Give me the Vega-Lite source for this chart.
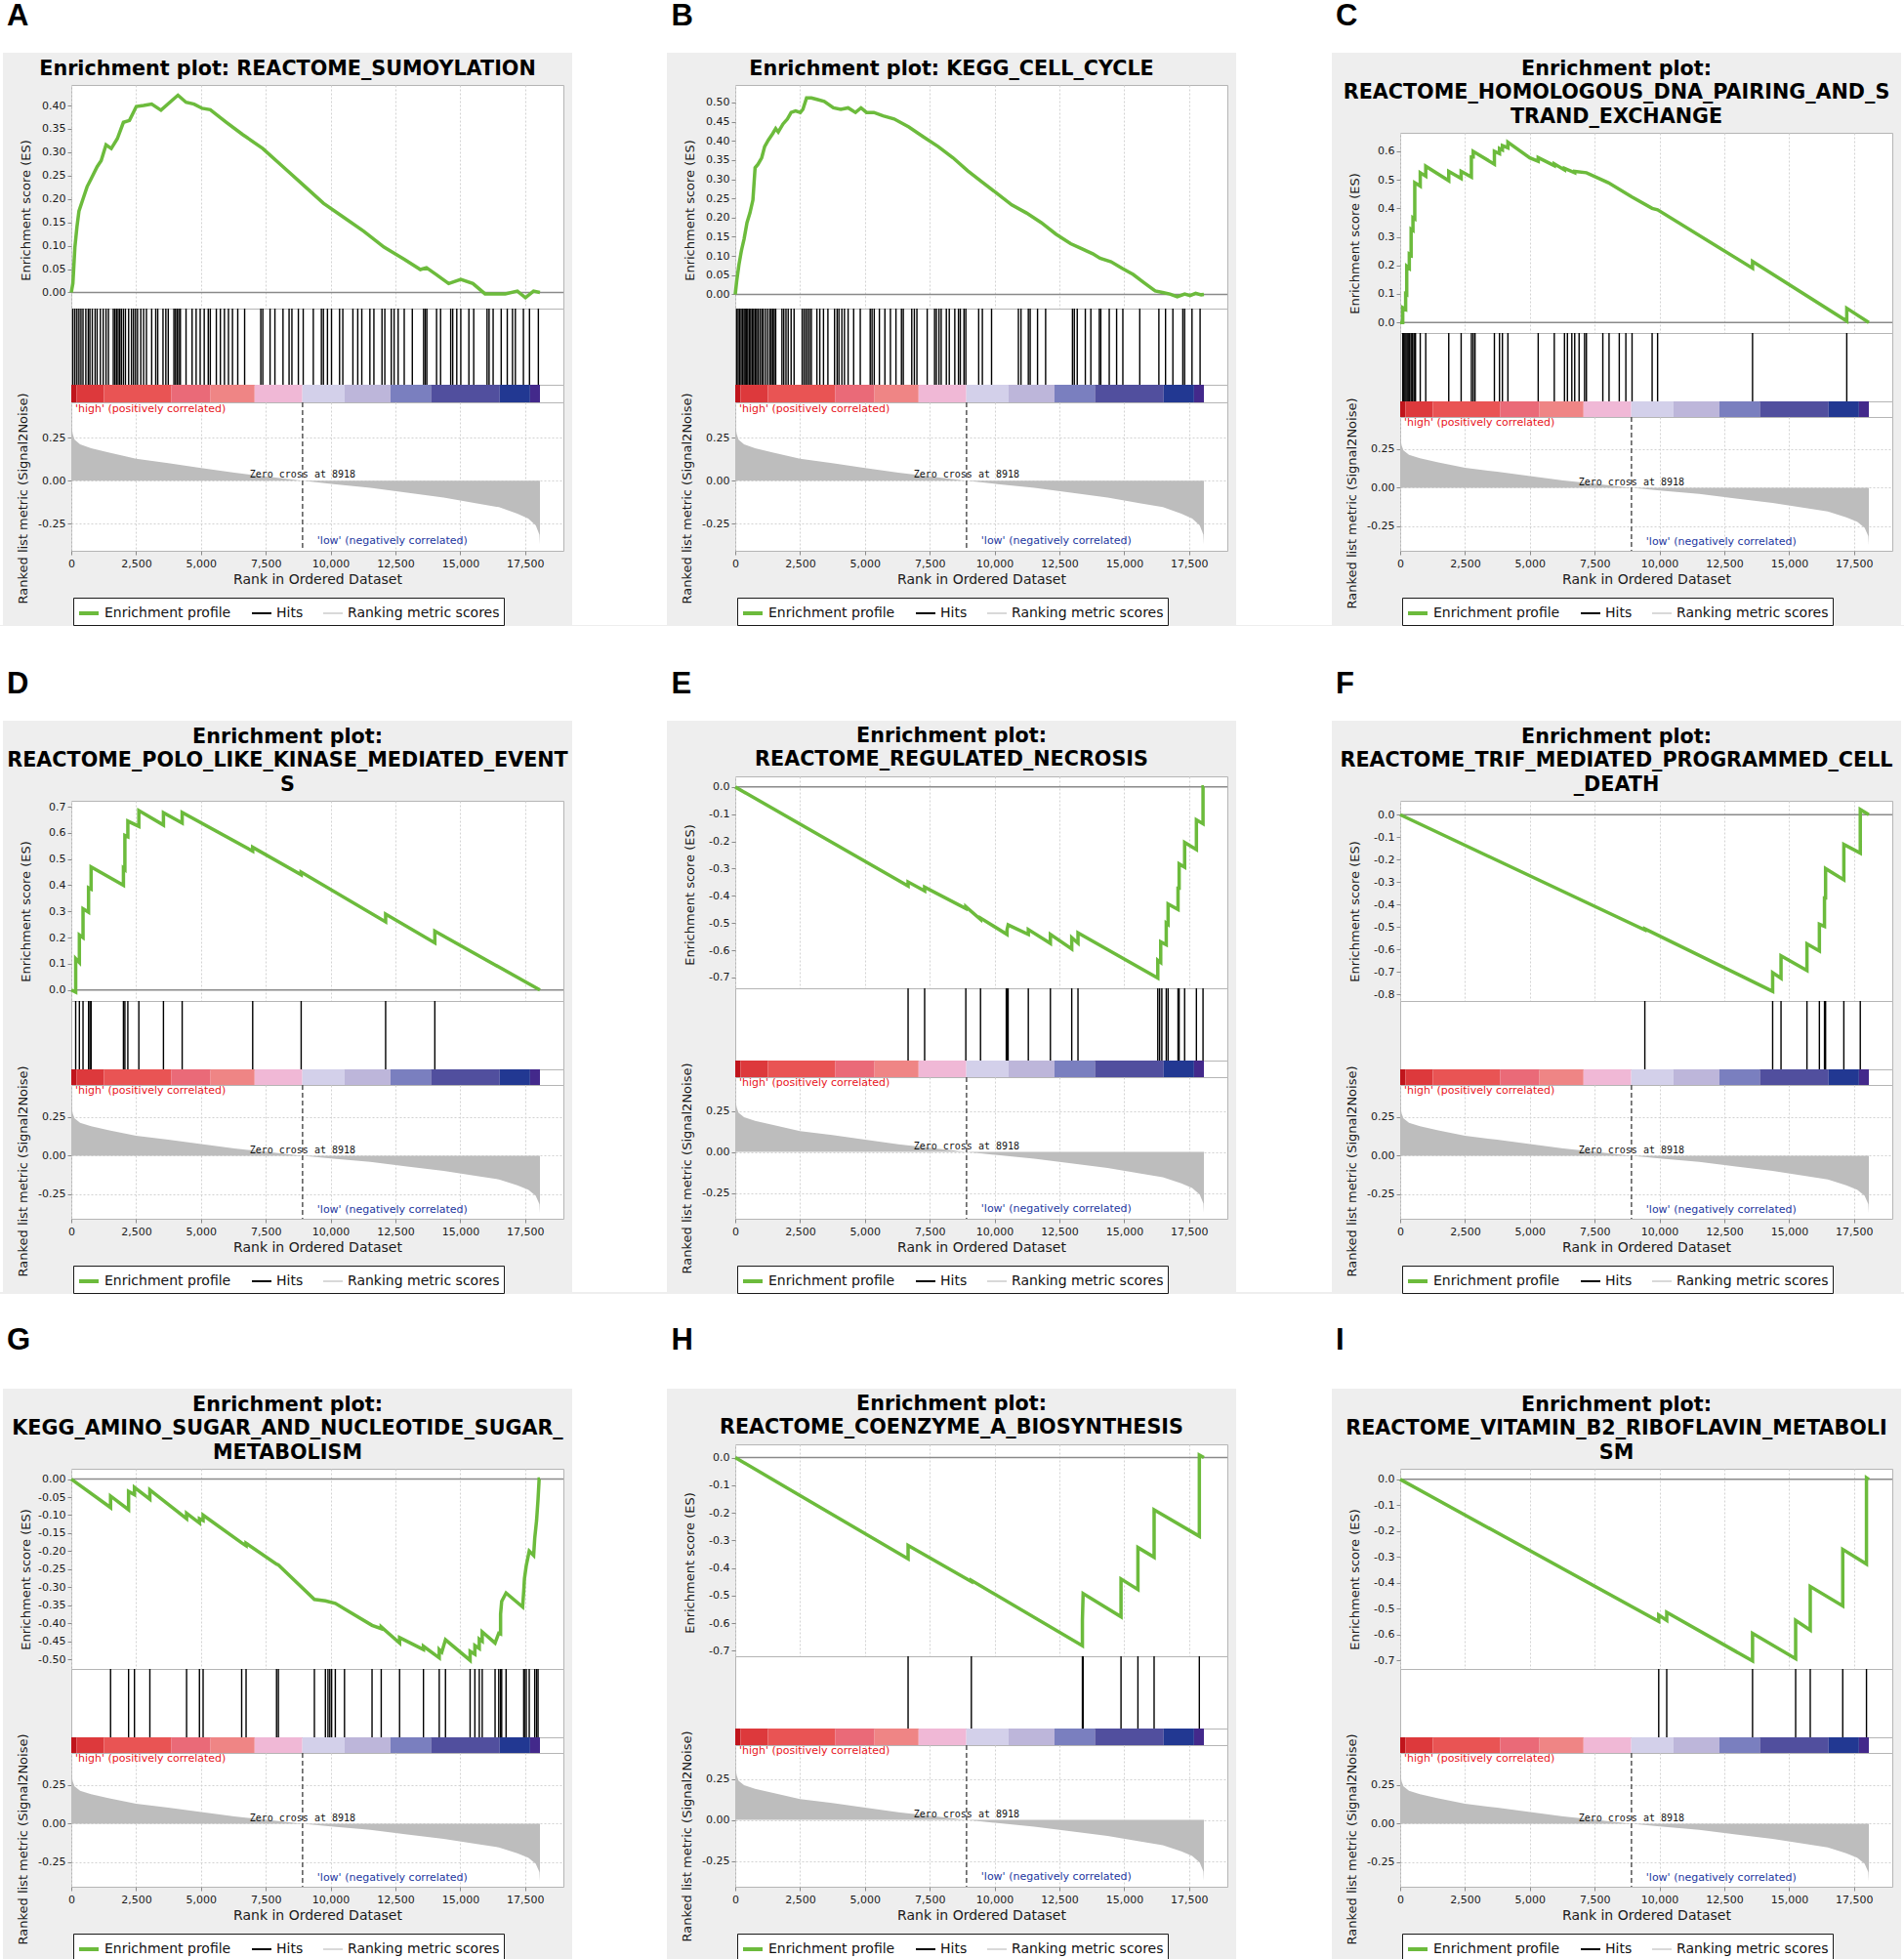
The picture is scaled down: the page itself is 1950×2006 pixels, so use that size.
{
  "$schema": "https://vega.github.io/schema/vega-lite/v6.json",
  "background": "#eeeeee",
  "padding": 0,
  "spacing": 0,
  "resolve": {"scale": {"color": "independent", "strokeWidth": "independent"}},
  "config": {
    "view": {"stroke": null},
    "concat": {"spacing": 0},
    "text": {"font": "DejaVu Sans"},
    "axis": {"labelFont": "DejaVu Sans", "labelFontSize": 11, "labelColor": "#1a1a1a", "titleFont": "DejaVu Sans", "titleFontSize": 13, "titleFontWeight": "normal", "titleColor": "#1a1a1a", "gridColor": "#d2d2d2", "gridDash": [2, 2], "tickColor": "#8a8a8a", "tickSize": 4, "labelPadding": 2, "domain": false, "labelFlush": false, "labelOverlap": false, "labelExpr": "replace(datum.label, '\u2212', '-')"},
    "axisY": {"minExtent": 35, "maxExtent": 35},
    "legend": {"orient": "none", "legendX": 2, "direction": "horizontal", "title": null, "fillColor": "white", "strokeColor": "#1a1a1a", "padding": 4, "labelFontSize": 14, "labelFont": "DejaVu Sans", "labelColor": "#111111", "symbolType": "stroke", "symbolSize": 400, "columnPadding": 17, "labelOffset": 4, "labelLimit": 300}
  },
  "datasets": {
    "cbar": [
      {"a": 0, "b": 200, "lv": 1}, {"a": 200, "b": 1260, "lv": 2}, {"a": 1260, "b": 3850, "lv": 3}, {"a": 3850, "b": 5370, "lv": 4},
      {"a": 5370, "b": 7070, "lv": 5}, {"a": 7070, "b": 8910, "lv": 6}, {"a": 8910, "b": 10540, "lv": 7}, {"a": 10540, "b": 12310, "lv": 8},
      {"a": 12310, "b": 13870, "lv": 9}, {"a": 13870, "b": 16520, "lv": 10}, {"a": 16520, "b": 17690, "lv": 11}, {"a": 17690, "b": 18071, "lv": 12}
    ],
    "metric": [
      {"r": 0, "m": 0.383}, {"r": 15, "m": 0.31}, {"r": 60, "m": 0.27}, {"r": 130, "m": 0.24}, {"r": 340, "m": 0.212}, {"r": 765, "m": 0.19},
      {"r": 1470, "m": 0.164}, {"r": 2500, "m": 0.128}, {"r": 3740, "m": 0.103}, {"r": 5010, "m": 0.075}, {"r": 6290, "m": 0.047},
      {"r": 7560, "m": 0.024}, {"r": 8918, "m": 0}, {"r": 10110, "m": -0.019}, {"r": 11530, "m": -0.041}, {"r": 12950, "m": -0.07},
      {"r": 14360, "m": -0.098}, {"r": 15640, "m": -0.132}, {"r": 16490, "m": -0.154}, {"r": 17200, "m": -0.192}, {"r": 17620, "m": -0.22},
      {"r": 17910, "m": -0.26}, {"r": 18050, "m": -0.314}, {"r": 18071, "m": -0.37}
    ],
    "es": [
      {"p":"A","r":0,"es":0},{"p":"A","r":62,"es":0.019},{"p":"A","r":140,"es":0.097},{"p":"A","r":218,"es":0.14},{"p":"A","r":296,"es":0.174},{"p":"A","r":452,"es":0.2},{"p":"A","r":608,"es":0.226},{"p":"A","r":763,"es":0.243},{"p":"A","r":997,"es":0.269},{"p":"A","r":1153,"es":0.282},{"p":"A","r":1340,"es":0.316},{"p":"A","r":1542,"es":0.308},{"p":"A","r":1776,"es":0.329},{"p":"A","r":2010,"es":0.364},{"p":"A","r":2243,"es":0.368},{"p":"A","r":2508,"es":0.398},{"p":"A","r":2789,"es":0.4},{"p":"A","r":3100,"es":0.403},{"p":"A","r":3459,"es":0.39},{"p":"A","r":3801,"es":0.407},{"p":"A","r":4113,"es":0.422},{"p":"A","r":4425,"es":0.407},{"p":"A","r":4736,"es":0.403},{"p":"A","r":5048,"es":0.394},{"p":"A","r":5360,"es":0.391},{"p":"A","r":5983,"es":0.364},{"p":"A","r":6606,"es":0.338},{"p":"A","r":7385,"es":0.308},{"p":"A","r":8164,"es":0.269},{"p":"A","r":8943,"es":0.23},{"p":"A","r":9722,"es":0.191},{"p":"A","r":10501,"es":0.161},{"p":"A","r":11280,"es":0.131},{"p":"A","r":12059,"es":0.097},{"p":"A","r":12838,"es":0.071},{"p":"A","r":13461,"es":0.049},{"p":"A","r":13695,"es":0.053},{"p":"A","r":14085,"es":0.038},{"p":"A","r":14552,"es":0.019},{"p":"A","r":15019,"es":0.028},{"p":"A","r":15487,"es":0.019},{"p":"A","r":15954,"es":-0.003},{"p":"A","r":16733,"es":-0.003},{"p":"A","r":17200,"es":0.003},{"p":"A","r":17512,"es":-0.011},{"p":"A","r":17824,"es":0.003},{"p":"A","r":18071,"es":0},
      {"p":"B","r":0,"es":0},{"p":"B","r":57,"es":0.035},{"p":"B","r":142,"es":0.077},{"p":"B","r":241,"es":0.115},{"p":"B","r":340,"es":0.144},{"p":"B","r":454,"es":0.187},{"p":"B","r":567,"es":0.212},{"p":"B","r":681,"es":0.246},{"p":"B","r":766,"es":0.33},{"p":"B","r":879,"es":0.339},{"p":"B","r":1021,"es":0.356},{"p":"B","r":1134,"es":0.385},{"p":"B","r":1276,"es":0.402},{"p":"B","r":1446,"es":0.419},{"p":"B","r":1560,"es":0.432},{"p":"B","r":1659,"es":0.423},{"p":"B","r":1843,"es":0.444},{"p":"B","r":2013,"es":0.457},{"p":"B","r":2155,"es":0.474},{"p":"B","r":2325,"es":0.478},{"p":"B","r":2510,"es":0.474},{"p":"B","r":2609,"es":0.482},{"p":"B","r":2751,"es":0.512},{"p":"B","r":2935,"es":0.512},{"p":"B","r":3148,"es":0.508},{"p":"B","r":3432,"es":0.503},{"p":"B","r":3786,"es":0.486},{"p":"B","r":4070,"es":0.482},{"p":"B","r":4353,"es":0.486},{"p":"B","r":4637,"es":0.474},{"p":"B","r":4850,"es":0.486},{"p":"B","r":5062,"es":0.474},{"p":"B","r":5346,"es":0.474},{"p":"B","r":5700,"es":0.465},{"p":"B","r":6126,"es":0.457},{"p":"B","r":6693,"es":0.436},{"p":"B","r":7260,"es":0.41},{"p":"B","r":7827,"es":0.385},{"p":"B","r":8395,"es":0.356},{"p":"B","r":8962,"es":0.322},{"p":"B","r":9529,"es":0.292},{"p":"B","r":10096,"es":0.263},{"p":"B","r":10663,"es":0.233},{"p":"B","r":11230,"es":0.212},{"p":"B","r":11798,"es":0.187},{"p":"B","r":12365,"es":0.157},{"p":"B","r":12932,"es":0.132},{"p":"B","r":13357,"es":0.119},{"p":"B","r":13783,"es":0.106},{"p":"B","r":14066,"es":0.094},{"p":"B","r":14492,"es":0.085},{"p":"B","r":14917,"es":0.068},{"p":"B","r":15342,"es":0.052},{"p":"B","r":15768,"es":0.03},{"p":"B","r":16193,"es":0.009},{"p":"B","r":16477,"es":0.005},{"p":"B","r":16760,"es":0.001},{"p":"B","r":17044,"es":-0.006},{"p":"B","r":17328,"es":0.001},{"p":"B","r":17540,"es":-0.003},{"p":"B","r":17753,"es":0.003},{"p":"B","r":17966,"es":-0.001},{"p":"B","r":18071,"es":0},
      {"p":"C","r":0,"es":0},{"p":"C","r":99,"es":0},{"p":"C","r":99,"es":0.052},{"p":"C","r":211,"es":0.046},{"p":"C","r":211,"es":0.1},{"p":"C","r":253,"es":0.098},{"p":"C","r":253,"es":0.197},{"p":"C","r":352,"es":0.19},{"p":"C","r":352,"es":0.24},{"p":"C","r":422,"es":0.236},{"p":"C","r":422,"es":0.327},{"p":"C","r":493,"es":0.323},{"p":"C","r":493,"es":0.367},{"p":"C","r":563,"es":0.363},{"p":"C","r":563,"es":0.49},{"p":"C","r":774,"es":0.478},{"p":"C","r":774,"es":0.525},{"p":"C","r":986,"es":0.513},{"p":"C","r":986,"es":0.548},{"p":"C","r":1873,"es":0.497},{"p":"C","r":1873,"es":0.53},{"p":"C","r":2351,"es":0.505},{"p":"C","r":2351,"es":0.53},{"p":"C","r":2746,"es":0.51},{"p":"C","r":2746,"es":0.58},{"p":"C","r":2816,"es":0.58},{"p":"C","r":2816,"es":0.6},{"p":"C","r":3633,"es":0.555},{"p":"C","r":3633,"es":0.6},{"p":"C","r":3830,"es":0.592},{"p":"C","r":3830,"es":0.61},{"p":"C","r":3942,"es":0.605},{"p":"C","r":3942,"es":0.62},{"p":"C","r":4154,"es":0.612},{"p":"C","r":4154,"es":0.632},{"p":"C","r":5000,"es":0.577},{"p":"C","r":5322,"es":0.565},{"p":"C","r":5322,"es":0.578},{"p":"C","r":5942,"es":0.55},{"p":"C","r":5942,"es":0.556},{"p":"C","r":6336,"es":0.535},{"p":"C","r":6336,"es":0.54},{"p":"C","r":6730,"es":0.525},{"p":"C","r":6730,"es":0.53},{"p":"C","r":7181,"es":0.525},{"p":"C","r":8026,"es":0.49},{"p":"C","r":8941,"es":0.44},{"p":"C","r":9715,"es":0.4},{"p":"C","r":9926,"es":0.395},{"p":"C","r":13587,"es":0.19},{"p":"C","r":13587,"es":0.214},{"p":"C","r":17220,"es":0.005},{"p":"C","r":17220,"es":0.05},{"p":"C","r":18071,"es":0},
      {"p":"D","r":0,"es":0},{"p":"D","r":170,"es":-0.008},{"p":"D","r":170,"es":0.12},{"p":"D","r":312,"es":0.105},{"p":"D","r":312,"es":0.21},{"p":"D","r":453,"es":0.2},{"p":"D","r":453,"es":0.31},{"p":"D","r":666,"es":0.297},{"p":"D","r":666,"es":0.39},{"p":"D","r":765,"es":0.385},{"p":"D","r":765,"es":0.47},{"p":"D","r":2011,"es":0.4},{"p":"D","r":2011,"es":0.465},{"p":"D","r":2067,"es":0.46},{"p":"D","r":2067,"es":0.59},{"p":"D","r":2181,"es":0.585},{"p":"D","r":2181,"es":0.645},{"p":"D","r":2605,"es":0.625},{"p":"D","r":2605,"es":0.685},{"p":"D","r":3554,"es":0.63},{"p":"D","r":3554,"es":0.677},{"p":"D","r":4276,"es":0.638},{"p":"D","r":4276,"es":0.678},{"p":"D","r":6995,"es":0.53},{"p":"D","r":6995,"es":0.545},{"p":"D","r":8864,"es":0.44},{"p":"D","r":8864,"es":0.45},{"p":"D","r":12121,"es":0.26},{"p":"D","r":12121,"es":0.29},{"p":"D","r":14018,"es":0.18},{"p":"D","r":14018,"es":0.225},{"p":"D","r":18071,"es":0},
      {"p":"E","r":0,"es":0},{"p":"E","r":6665,"es":-0.364},{"p":"E","r":6665,"es":-0.349},{"p":"E","r":7303,"es":-0.382},{"p":"E","r":7303,"es":-0.368},{"p":"E","r":8891,"es":-0.447},{"p":"E","r":8891,"es":-0.44},{"p":"E","r":9458,"es":-0.487},{"p":"E","r":9458,"es":-0.482},{"p":"E","r":10479,"es":-0.542},{"p":"E","r":10479,"es":-0.525},{"p":"E","r":10522,"es":-0.507},{"p":"E","r":11301,"es":-0.542},{"p":"E","r":11301,"es":-0.524},{"p":"E","r":12152,"es":-0.575},{"p":"E","r":12152,"es":-0.542},{"p":"E","r":12975,"es":-0.595},{"p":"E","r":12975,"es":-0.554},{"p":"E","r":13216,"es":-0.574},{"p":"E","r":13216,"es":-0.536},{"p":"E","r":16293,"es":-0.702},{"p":"E","r":16293,"es":-0.637},{"p":"E","r":16406,"es":-0.645},{"p":"E","r":16406,"es":-0.569},{"p":"E","r":16619,"es":-0.58},{"p":"E","r":16619,"es":-0.5},{"p":"E","r":16690,"es":-0.505},{"p":"E","r":16690,"es":-0.43},{"p":"E","r":17073,"es":-0.45},{"p":"E","r":17073,"es":-0.372},{"p":"E","r":17116,"es":-0.372},{"p":"E","r":17116,"es":-0.283},{"p":"E","r":17328,"es":-0.295},{"p":"E","r":17328,"es":-0.204},{"p":"E","r":17782,"es":-0.23},{"p":"E","r":17782,"es":-0.121},{"p":"E","r":18037,"es":-0.135},{"p":"E","r":18037,"es":0},{"p":"E","r":18071,"es":0},
      {"p":"F","r":0,"es":0},{"p":"F","r":9434,"es":-0.513},{"p":"F","r":9434,"es":-0.508},{"p":"F","r":14362,"es":-0.786},{"p":"F","r":14362,"es":-0.703},{"p":"F","r":14685,"es":-0.728},{"p":"F","r":14685,"es":-0.628},{"p":"F","r":15685,"es":-0.693},{"p":"F","r":15685,"es":-0.575},{"p":"F","r":16164,"es":-0.606},{"p":"F","r":16164,"es":-0.487},{"p":"F","r":16361,"es":-0.497},{"p":"F","r":16361,"es":-0.37},{"p":"F","r":16403,"es":-0.37},{"p":"F","r":16403,"es":-0.24},{"p":"F","r":17107,"es":-0.29},{"p":"F","r":17107,"es":-0.132},{"p":"F","r":17741,"es":-0.171},{"p":"F","r":17741,"es":0.023},{"p":"F","r":18071,"es":0},
      {"p":"G","r":0,"es":0},{"p":"G","r":1515,"es":-0.079},{"p":"G","r":1515,"es":-0.047},{"p":"G","r":2209,"es":-0.085},{"p":"G","r":2209,"es":-0.034},{"p":"G","r":2436,"es":-0.043},{"p":"G","r":2436,"es":-0.023},{"p":"G","r":3030,"es":-0.056},{"p":"G","r":3030,"es":-0.03},{"p":"G","r":4446,"es":-0.11},{"p":"G","r":4446,"es":-0.095},{"p":"G","r":4942,"es":-0.122},{"p":"G","r":4942,"es":-0.11},{"p":"G","r":5083,"es":-0.115},{"p":"G","r":5083,"es":-0.1},{"p":"G","r":6570,"es":-0.177},{"p":"G","r":6740,"es":-0.185},{"p":"G","r":6740,"es":-0.178},{"p":"G","r":7915,"es":-0.236},{"p":"G","r":7986,"es":-0.238},{"p":"G","r":9374,"es":-0.334},{"p":"G","r":9799,"es":-0.338},{"p":"G","r":10181,"es":-0.345},{"p":"G","r":10535,"es":-0.36},{"p":"G","r":11597,"es":-0.406},{"p":"G","r":11951,"es":-0.415},{"p":"G","r":11951,"es":-0.41},{"p":"G","r":12659,"es":-0.455},{"p":"G","r":12659,"es":-0.44},{"p":"G","r":13579,"es":-0.473},{"p":"G","r":13579,"es":-0.464},{"p":"G","r":14188,"es":-0.496},{"p":"G","r":14188,"es":-0.473},{"p":"G","r":14287,"es":-0.48},{"p":"G","r":14429,"es":-0.446},{"p":"G","r":15378,"es":-0.503},{"p":"G","r":15378,"es":-0.478},{"p":"G","r":15562,"es":-0.486},{"p":"G","r":15562,"es":-0.462},{"p":"G","r":15732,"es":-0.47},{"p":"G","r":15732,"es":-0.444},{"p":"G","r":15845,"es":-0.45},{"p":"G","r":15845,"es":-0.424},{"p":"G","r":16341,"es":-0.455},{"p":"G","r":16482,"es":-0.428},{"p":"G","r":16553,"es":-0.43},{"p":"G","r":16553,"es":-0.375},{"p":"G","r":16596,"es":-0.339},{"p":"G","r":16765,"es":-0.316},{"p":"G","r":17403,"es":-0.355},{"p":"G","r":17445,"es":-0.312},{"p":"G","r":17474,"es":-0.276},{"p":"G","r":17544,"es":-0.24},{"p":"G","r":17658,"es":-0.2},{"p":"G","r":17828,"es":-0.212},{"p":"G","r":17870,"es":-0.164},{"p":"G","r":17941,"es":-0.115},{"p":"G","r":17998,"es":-0.056},{"p":"G","r":18040,"es":0},{"p":"G","r":18071,"es":0},
      {"p":"H","r":0,"es":0},{"p":"H","r":6665,"es":-0.367},{"p":"H","r":6665,"es":-0.318},{"p":"H","r":9104,"es":-0.449},{"p":"H","r":9104,"es":-0.445},{"p":"H","r":13386,"es":-0.682},{"p":"H","r":13386,"es":-0.589},{"p":"H","r":13414,"es":-0.493},{"p":"H","r":14875,"es":-0.577},{"p":"H","r":14875,"es":-0.44},{"p":"H","r":15527,"es":-0.478},{"p":"H","r":15527,"es":-0.326},{"p":"H","r":16151,"es":-0.361},{"p":"H","r":16151,"es":-0.189},{"p":"H","r":17895,"es":-0.285},{"p":"H","r":17895,"es":0.009},{"p":"H","r":18071,"es":0},
      {"p":"I","r":0,"es":0},{"p":"I","r":9969,"es":-0.55},{"p":"I","r":9969,"es":-0.525},{"p":"I","r":10278,"es":-0.546},{"p":"I","r":10278,"es":-0.515},{"p":"I","r":13587,"es":-0.703},{"p":"I","r":13587,"es":-0.596},{"p":"I","r":15249,"es":-0.694},{"p":"I","r":15249,"es":-0.546},{"p":"I","r":15812,"es":-0.584},{"p":"I","r":15812,"es":-0.415},{"p":"I","r":17065,"es":-0.49},{"p":"I","r":17065,"es":-0.271},{"p":"I","r":17980,"es":-0.328},{"p":"I","r":17980,"es":0.006},{"p":"I","r":18071,"es":0}
    ],
    "hits": [
      {"p":"A","r":62},{"p":"A","r":140},{"p":"A","r":218},{"p":"A","r":296},{"p":"A","r":374},{"p":"A","r":452},{"p":"A","r":561},{"p":"A","r":654},{"p":"A","r":717},{"p":"A","r":810},{"p":"A","r":919},{"p":"A","r":997},{"p":"A","r":1122},{"p":"A","r":1231},{"p":"A","r":1340},{"p":"A","r":1433},{"p":"A","r":1620},{"p":"A","r":1683},{"p":"A","r":1745},{"p":"A","r":1807},{"p":"A","r":1870},{"p":"A","r":1932},{"p":"A","r":2010},{"p":"A","r":2088},{"p":"A","r":2212},{"p":"A","r":2321},{"p":"A","r":2399},{"p":"A","r":2477},{"p":"A","r":2555},{"p":"A","r":2680},{"p":"A","r":2789},{"p":"A","r":2898},{"p":"A","r":3100},{"p":"A","r":3256},{"p":"A","r":3334},{"p":"A","r":3537},{"p":"A","r":3646},{"p":"A","r":3739},{"p":"A","r":3957},{"p":"A","r":4020},{"p":"A","r":4082},{"p":"A","r":4144},{"p":"A","r":4207},{"p":"A","r":4425},{"p":"A","r":4658},{"p":"A","r":4814},{"p":"A","r":4970},{"p":"A","r":5126},{"p":"A","r":5282},{"p":"A","r":5360},{"p":"A","r":5593},{"p":"A","r":5749},{"p":"A","r":5905},{"p":"A","r":6061},{"p":"A","r":6216},{"p":"A","r":6419},{"p":"A","r":6684},{"p":"A","r":7307},{"p":"A","r":7385},{"p":"A","r":7665},{"p":"A","r":7852},{"p":"A","r":8164},{"p":"A","r":8398},{"p":"A","r":8507},{"p":"A","r":8756},{"p":"A","r":8943},{"p":"A","r":9332},{"p":"A","r":9644},{"p":"A","r":9722},{"p":"A","r":9878},{"p":"A","r":10034},{"p":"A","r":10345},{"p":"A","r":10470},{"p":"A","r":10859},{"p":"A","r":11046},{"p":"A","r":11202},{"p":"A","r":11514},{"p":"A","r":11669},{"p":"A","r":11981},{"p":"A","r":12090},{"p":"A","r":12339},{"p":"A","r":12448},{"p":"A","r":12604},{"p":"A","r":12838},{"p":"A","r":13150},{"p":"A","r":13586},{"p":"A","r":13648},{"p":"A","r":13710},{"p":"A","r":14085},{"p":"A","r":14240},{"p":"A","r":14630},{"p":"A","r":14708},{"p":"A","r":14864},{"p":"A","r":15019},{"p":"A","r":15331},{"p":"A","r":15518},{"p":"A","r":16032},{"p":"A","r":16110},{"p":"A","r":16266},{"p":"A","r":16577},{"p":"A","r":16811},{"p":"A","r":17014},{"p":"A","r":17123},{"p":"A","r":17434},{"p":"A","r":17668},{"p":"A","r":18010},
      {"p":"B","r":57},{"p":"B","r":113},{"p":"B","r":170},{"p":"B","r":227},{"p":"B","r":284},{"p":"B","r":340},{"p":"B","r":383},{"p":"B","r":425},{"p":"B","r":482},{"p":"B","r":539},{"p":"B","r":596},{"p":"B","r":652},{"p":"B","r":709},{"p":"B","r":766},{"p":"B","r":822},{"p":"B","r":879},{"p":"B","r":950},{"p":"B","r":1021},{"p":"B","r":1078},{"p":"B","r":1163},{"p":"B","r":1248},{"p":"B","r":1333},{"p":"B","r":1390},{"p":"B","r":1446},{"p":"B","r":1503},{"p":"B","r":1560},{"p":"B","r":1801},{"p":"B","r":1872},{"p":"B","r":1957},{"p":"B","r":2042},{"p":"B","r":2155},{"p":"B","r":2269},{"p":"B","r":2581},{"p":"B","r":2652},{"p":"B","r":2723},{"p":"B","r":2793},{"p":"B","r":2864},{"p":"B","r":2935},{"p":"B","r":3148},{"p":"B","r":3261},{"p":"B","r":3403},{"p":"B","r":3573},{"p":"B","r":3829},{"p":"B","r":3928},{"p":"B","r":3999},{"p":"B","r":4112},{"p":"B","r":4211},{"p":"B","r":4353},{"p":"B","r":4566},{"p":"B","r":4821},{"p":"B","r":5204},{"p":"B","r":5275},{"p":"B","r":5360},{"p":"B","r":5558},{"p":"B","r":5771},{"p":"B","r":5984},{"p":"B","r":6197},{"p":"B","r":6409},{"p":"B","r":6480},{"p":"B","r":6806},{"p":"B","r":6906},{"p":"B","r":7005},{"p":"B","r":7402},{"p":"B","r":7686},{"p":"B","r":7757},{"p":"B","r":7856},{"p":"B","r":7941},{"p":"B","r":8140},{"p":"B","r":8253},{"p":"B","r":8466},{"p":"B","r":8608},{"p":"B","r":8679},{"p":"B","r":8820},{"p":"B","r":8891},{"p":"B","r":9387},{"p":"B","r":9529},{"p":"B","r":9883},{"p":"B","r":10919},{"p":"B","r":11018},{"p":"B","r":11301},{"p":"B","r":11372},{"p":"B","r":11656},{"p":"B","r":11968},{"p":"B","r":13003},{"p":"B","r":13074},{"p":"B","r":13187},{"p":"B","r":13499},{"p":"B","r":13712},{"p":"B","r":14038},{"p":"B","r":14095},{"p":"B","r":14421},{"p":"B","r":14705},{"p":"B","r":14946},{"p":"B","r":15598},{"p":"B","r":16335},{"p":"B","r":16591},{"p":"B","r":16875},{"p":"B","r":17258},{"p":"B","r":17328},{"p":"B","r":17612},{"p":"B","r":17924},
      {"p":"C","r":99},{"p":"C","r":141},{"p":"C","r":183},{"p":"C","r":225},{"p":"C","r":268},{"p":"C","r":310},{"p":"C","r":366},{"p":"C","r":422},{"p":"C","r":479},{"p":"C","r":535},{"p":"C","r":591},{"p":"C","r":774},{"p":"C","r":986},{"p":"C","r":1873},{"p":"C","r":2351},{"p":"C","r":2746},{"p":"C","r":2816},{"p":"C","r":2886},{"p":"C","r":3633},{"p":"C","r":3830},{"p":"C","r":3942},{"p":"C","r":4154},{"p":"C","r":5322},{"p":"C","r":5942},{"p":"C","r":6336},{"p":"C","r":6449},{"p":"C","r":6618},{"p":"C","r":6730},{"p":"C","r":6899},{"p":"C","r":7110},{"p":"C","r":7181},{"p":"C","r":7814},{"p":"C","r":8054},{"p":"C","r":8448},{"p":"C","r":8702},{"p":"C","r":8941},{"p":"C","r":9715},{"p":"C","r":9926},{"p":"C","r":13587},{"p":"C","r":17220},
      {"p":"D","r":170},{"p":"D","r":312},{"p":"D","r":453},{"p":"D","r":666},{"p":"D","r":720},{"p":"D","r":765},{"p":"D","r":2011},{"p":"D","r":2067},{"p":"D","r":2181},{"p":"D","r":2605},{"p":"D","r":3554},{"p":"D","r":4276},{"p":"D","r":6995},{"p":"D","r":8864},{"p":"D","r":12121},{"p":"D","r":14018},
      {"p":"E","r":6665},{"p":"E","r":7303},{"p":"E","r":8891},{"p":"E","r":9458},{"p":"E","r":10451},{"p":"E","r":10479},{"p":"E","r":10522},{"p":"E","r":11301},{"p":"E","r":12152},{"p":"E","r":12975},{"p":"E","r":13216},{"p":"E","r":16293},{"p":"E","r":16364},{"p":"E","r":16449},{"p":"E","r":16619},{"p":"E","r":16690},{"p":"E","r":17073},{"p":"E","r":17116},{"p":"E","r":17328},{"p":"E","r":17782},{"p":"E","r":18037},
      {"p":"F","r":9434},{"p":"F","r":14362},{"p":"F","r":14685},{"p":"F","r":15685},{"p":"F","r":16164},{"p":"F","r":16361},{"p":"F","r":16403},{"p":"F","r":17107},{"p":"F","r":17741},
      {"p":"G","r":1515},{"p":"G","r":2209},{"p":"G","r":2436},{"p":"G","r":3030},{"p":"G","r":4446},{"p":"G","r":4942},{"p":"G","r":5083},{"p":"G","r":6570},{"p":"G","r":6740},{"p":"G","r":7915},{"p":"G","r":7986},{"p":"G","r":9374},{"p":"G","r":9799},{"p":"G","r":9898},{"p":"G","r":9969},{"p":"G","r":10039},{"p":"G","r":10181},{"p":"G","r":10535},{"p":"G","r":11597},{"p":"G","r":11951},{"p":"G","r":12659},{"p":"G","r":13579},{"p":"G","r":14188},{"p":"G","r":14429},{"p":"G","r":15378},{"p":"G","r":15562},{"p":"G","r":15732},{"p":"G","r":15845},{"p":"G","r":16341},{"p":"G","r":16482},{"p":"G","r":16553},{"p":"G","r":16596},{"p":"G","r":16765},{"p":"G","r":17445},{"p":"G","r":17474},{"p":"G","r":17544},{"p":"G","r":17658},{"p":"G","r":17870},{"p":"G","r":17941},{"p":"G","r":17998},
      {"p":"H","r":6665},{"p":"H","r":9104},{"p":"H","r":13386},{"p":"H","r":13414},{"p":"H","r":14875},{"p":"H","r":15527},{"p":"H","r":16151},{"p":"H","r":17895},
      {"p":"I","r":9969},{"p":"I","r":10278},{"p":"I","r":13587},{"p":"I","r":15249},{"p":"I","r":15812},{"p":"I","r":17065},{"p":"I","r":17980}
    ]
  },
  "vconcat": [
    {"width": 1950, "height": 34, "view": {"fill": "white"}, "data": {"values": [{"k": "A"}, {"k": "B"}, {"k": "C"}]},
     "mark": {"type": "text", "font": "Liberation Sans", "fontSize": 31, "fontWeight": "bold", "align": "left", "baseline": "middle", "color": "black"},
     "encoding": {"x": {"field": "k", "type": "nominal", "scale": {"type": "point", "padding": 0.4328, "align": 0.0119}, "axis": null}, "text": {"field": "k"}}},
    {"width": 1950, "height": 20, "view": {"fill": "white"}, "data": {"values": []}, "mark": "point"},
    {"spacing": 0, "resolve": {"scale": {"color": "independent", "strokeWidth": "independent"}}, "hconcat": [
      {"width": 3, "height": 586, "view": {"fill": "white"}, "data": {"values": []}, "mark": "point"},
      {"spacing": 0, "resolve": {"scale": {"color": "independent", "strokeWidth": "independent"}}, "vconcat": [
        {"width": 583, "height": 32, "data": {"values": [{}]}, "mark": {"type": "text", "fontSize": 20.7, "fontWeight": "bold", "lineHeight": 24.5, "align": "center", "baseline": "middle", "dy": 0.7, "color": "black"}, "encoding": {"text": {"value": ["Enrichment plot: REACTOME_SUMOYLATION"]}}},
        {"spacing": 0, "resolve": {"scale": {"color": "independent", "strokeWidth": "independent"}}, "hconcat": [
          {"width": 14, "height": 1, "data": {"values": []}, "mark": "point"},
          {"bounds": "flush", "spacing": 0, "resolve": {"scale": {"color": "independent", "strokeWidth": "independent"}}, "vconcat": [
            {"width": 504, "height": 229, "view": {"fill": "white", "stroke": "#b5b5b5"}, "layer": [
              {"data": {"values": [{}]}, "mark": {"type": "rule", "color": "#8a8a8a", "strokeWidth": 1.5}, "encoding": {"y": {"datum": 0, "scale": {"domain": [-0.0345, 0.444], "nice": false, "zero": false}, "axis": {"values": [0, 0.05, 0.1, 0.15, 0.2, 0.25, 0.3, 0.35, 0.4], "format": ".2f", "title": "Enrichment score (ES)", "titleY": 128, "titlePadding": 5}}}},
              {"data": {"name": "es"}, "transform": [{"filter": "datum.p === 'A'"}], "mark": {"type": "line", "color": "#6cbb3c", "strokeWidth": 3.5}, "encoding": {
                "x": {"field": "r", "type": "quantitative", "scale": {"domain": [0, 18975], "nice": false, "zero": false}, "axis": {"values": [0, 2500, 5000, 7500, 10000, 12500, 15000, 17500], "labels": false, "ticks": false, "title": null}},
                "y": {"field": "es", "type": "quantitative", "scale": {"domain": [-0.0345, 0.444], "nice": false, "zero": false}, "axis": {"values": [0, 0.05, 0.1, 0.15, 0.2, 0.25, 0.3, 0.35, 0.4], "format": ".2f", "title": "Enrichment score (ES)", "titleY": 128, "titlePadding": 5}}}}
            ]},
            {"width": 504, "height": 78, "view": {"fill": "white", "stroke": "#b5b5b5"}, "data": {"name": "hits"}, "transform": [{"filter": "datum.p === 'A'"}], "mark": {"type": "rule", "color": "black", "strokeWidth": 1.4}, "encoding": {"x": {"field": "r", "type": "quantitative", "scale": {"domain": [0, 18975], "nice": false, "zero": false}, "axis": null}}},
            {"width": 504, "height": 18, "view": {"fill": "white", "stroke": "#b5b5b5"}, "data": {"name": "cbar"}, "mark": "rect", "encoding": {"x": {"field": "a", "type": "quantitative", "scale": {"domain": [0, 18975], "nice": false, "zero": false}, "axis": null}, "x2": {"field": "b"}, "fill": {"field": "lv", "type": "ordinal", "scale": {"domain": [1,2,3,4,5,6,7,8,9,10,11,12], "range": ["#c0151c","#dd393c","#e95454","#ea6a78","#ef8585","#f0b8d6","#d3d0ea","#bdb6da","#7a7fbf","#514f9e","#223892","#43298b"]}, "legend": null}}},
            {"width": 504, "height": 152, "view": {"fill": "white", "stroke": "#b5b5b5"}, "layer": [
              {"data": {"name": "metric"}, "mark": {"type": "area", "color": "#bdbdbd"}, "encoding": {
                "x": {"field": "r", "type": "quantitative", "scale": {"domain": [0, 18975], "nice": false, "zero": false}, "axis": {"values": [0, 2500, 5000, 7500, 10000, 12500, 15000, 17500], "format": ",d", "title": "Rank in Ordered Dataset", "titleFontSize": 14, "titlePadding": 4, "labelPadding": 3}},
                "y": {"field": "m", "type": "quantitative", "stack": null, "scale": {"domain": [-0.408, 0.457], "nice": false, "zero": false}, "axis": {"values": [-0.25, 0, 0.25], "format": ".2f", "title": "Ranked list metric (Signal2Noise)", "titleY": 98, "titlePadding": 7.5}},
                "y2": {"datum": 0}}},
              {"data": {"values": [{}]}, "mark": {"type": "rule", "color": "#555555", "strokeWidth": 1.5, "strokeDash": [5, 3]}, "encoding": {"x": {"datum": 8918}}},
              {"data": {"values": [{}]}, "mark": {"type": "text", "text": "Zero cross at 8918", "font": "DejaVu Sans Mono", "fontSize": 10, "align": "center", "baseline": "bottom", "color": "#111111"}, "encoding": {"x": {"datum": 8918}, "y": {"datum": 0.005}}},
              {"data": {"values": [{}]}, "mark": {"type": "text", "text": "'high' (positively correlated)", "fontSize": 11, "align": "left", "baseline": "middle", "color": "#e8141c"}, "encoding": {"x": {"datum": 150}, "y": {"datum": 0.42}}},
              {"data": {"values": [{}]}, "mark": {"type": "text", "text": "'low' (negatively correlated)", "fontSize": 11, "align": "left", "baseline": "middle", "color": "#2337a0"}, "encoding": {"x": {"datum": 9480}, "y": {"datum": -0.35}}},
              {"data": {"name": "metric"}, "transform": [{"filter": "false"}], "mark": {"type": "line"}, "encoding": {
                "x": {"field": "r", "type": "quantitative"}, "y": {"field": "m", "type": "quantitative"},
                "color": {"field": "s", "type": "nominal", "scale": {"domain": ["Enrichment profile", "Hits", "Ranking metric scores"], "range": ["#6cbb3c", "#000000", "#cccccc"]}, "legend": {"legendY": 200}},
                "strokeWidth": {"field": "s", "type": "nominal", "scale": {"type": "ordinal", "domain": ["Enrichment profile", "Hits", "Ranking metric scores"], "range": [4, 2, 1.5]}, "legend": {"legendY": 200}}}}
            ]}
          ]}
        ]}
      ]},
      {"width": 97, "height": 586, "view": {"fill": "white"}, "data": {"values": []}, "mark": "point"},
      {"spacing": 0, "resolve": {"scale": {"color": "independent", "strokeWidth": "independent"}}, "vconcat": [
        {"width": 583, "height": 32, "data": {"values": [{}]}, "mark": {"type": "text", "fontSize": 20.7, "fontWeight": "bold", "lineHeight": 24.5, "align": "center", "baseline": "middle", "dy": 0.7, "color": "black"}, "encoding": {"text": {"value": ["Enrichment plot: KEGG_CELL_CYCLE"]}}},
        {"spacing": 0, "resolve": {"scale": {"color": "independent", "strokeWidth": "independent"}}, "hconcat": [
          {"width": 14, "height": 1, "data": {"values": []}, "mark": "point"},
          {"bounds": "flush", "spacing": 0, "resolve": {"scale": {"color": "independent", "strokeWidth": "independent"}}, "vconcat": [
            {"width": 504, "height": 229, "view": {"fill": "white", "stroke": "#b5b5b5"}, "layer": [
              {"data": {"values": [{}]}, "mark": {"type": "rule", "color": "#8a8a8a", "strokeWidth": 1.5}, "encoding": {"y": {"datum": 0, "scale": {"domain": [-0.037, 0.5456], "nice": false, "zero": false}, "axis": {"values": [0, 0.05, 0.1, 0.15, 0.2, 0.25, 0.3, 0.35, 0.4, 0.45, 0.5], "format": ".2f", "title": "Enrichment score (ES)", "titleY": 128, "titlePadding": 5}}}},
              {"data": {"name": "es"}, "transform": [{"filter": "datum.p === 'B'"}], "mark": {"type": "line", "color": "#6cbb3c", "strokeWidth": 3.5}, "encoding": {
                "x": {"field": "r", "type": "quantitative", "scale": {"domain": [0, 18975], "nice": false, "zero": false}, "axis": {"values": [0, 2500, 5000, 7500, 10000, 12500, 15000, 17500], "labels": false, "ticks": false, "title": null}},
                "y": {"field": "es", "type": "quantitative", "scale": {"domain": [-0.037, 0.5456], "nice": false, "zero": false}, "axis": {"values": [0, 0.05, 0.1, 0.15, 0.2, 0.25, 0.3, 0.35, 0.4, 0.45, 0.5], "format": ".2f", "title": "Enrichment score (ES)", "titleY": 128, "titlePadding": 5}}}}
            ]},
            {"width": 504, "height": 78, "view": {"fill": "white", "stroke": "#b5b5b5"}, "data": {"name": "hits"}, "transform": [{"filter": "datum.p === 'B'"}], "mark": {"type": "rule", "color": "black", "strokeWidth": 1.4}, "encoding": {"x": {"field": "r", "type": "quantitative", "scale": {"domain": [0, 18975], "nice": false, "zero": false}, "axis": null}}},
            {"width": 504, "height": 18, "view": {"fill": "white", "stroke": "#b5b5b5"}, "data": {"name": "cbar"}, "mark": "rect", "encoding": {"x": {"field": "a", "type": "quantitative", "scale": {"domain": [0, 18975], "nice": false, "zero": false}, "axis": null}, "x2": {"field": "b"}, "fill": {"field": "lv", "type": "ordinal", "scale": {"domain": [1,2,3,4,5,6,7,8,9,10,11,12], "range": ["#c0151c","#dd393c","#e95454","#ea6a78","#ef8585","#f0b8d6","#d3d0ea","#bdb6da","#7a7fbf","#514f9e","#223892","#43298b"]}, "legend": null}}},
            {"width": 504, "height": 152, "view": {"fill": "white", "stroke": "#b5b5b5"}, "layer": [
              {"data": {"name": "metric"}, "mark": {"type": "area", "color": "#bdbdbd"}, "encoding": {
                "x": {"field": "r", "type": "quantitative", "scale": {"domain": [0, 18975], "nice": false, "zero": false}, "axis": {"values": [0, 2500, 5000, 7500, 10000, 12500, 15000, 17500], "format": ",d", "title": "Rank in Ordered Dataset", "titleFontSize": 14, "titlePadding": 4, "labelPadding": 3}},
                "y": {"field": "m", "type": "quantitative", "stack": null, "scale": {"domain": [-0.408, 0.457], "nice": false, "zero": false}, "axis": {"values": [-0.25, 0, 0.25], "format": ".2f", "title": "Ranked list metric (Signal2Noise)", "titleY": 98, "titlePadding": 7.5}},
                "y2": {"datum": 0}}},
              {"data": {"values": [{}]}, "mark": {"type": "rule", "color": "#555555", "strokeWidth": 1.5, "strokeDash": [5, 3]}, "encoding": {"x": {"datum": 8918}}},
              {"data": {"values": [{}]}, "mark": {"type": "text", "text": "Zero cross at 8918", "font": "DejaVu Sans Mono", "fontSize": 10, "align": "center", "baseline": "bottom", "color": "#111111"}, "encoding": {"x": {"datum": 8918}, "y": {"datum": 0.005}}},
              {"data": {"values": [{}]}, "mark": {"type": "text", "text": "'high' (positively correlated)", "fontSize": 11, "align": "left", "baseline": "middle", "color": "#e8141c"}, "encoding": {"x": {"datum": 150}, "y": {"datum": 0.42}}},
              {"data": {"values": [{}]}, "mark": {"type": "text", "text": "'low' (negatively correlated)", "fontSize": 11, "align": "left", "baseline": "middle", "color": "#2337a0"}, "encoding": {"x": {"datum": 9480}, "y": {"datum": -0.35}}},
              {"data": {"name": "metric"}, "transform": [{"filter": "false"}], "mark": {"type": "line"}, "encoding": {
                "x": {"field": "r", "type": "quantitative"}, "y": {"field": "m", "type": "quantitative"},
                "color": {"field": "s", "type": "nominal", "scale": {"domain": ["Enrichment profile", "Hits", "Ranking metric scores"], "range": ["#6cbb3c", "#000000", "#cccccc"]}, "legend": {"legendY": 200}},
                "strokeWidth": {"field": "s", "type": "nominal", "scale": {"type": "ordinal", "domain": ["Enrichment profile", "Hits", "Ranking metric scores"], "range": [4, 2, 1.5]}, "legend": {"legendY": 200}}}}
            ]}
          ]}
        ]}
      ]},
      {"width": 98, "height": 586, "view": {"fill": "white"}, "data": {"values": []}, "mark": "point"},
      {"spacing": 0, "resolve": {"scale": {"color": "independent", "strokeWidth": "independent"}}, "vconcat": [
        {"width": 583, "height": 81, "data": {"values": [{}]}, "mark": {"type": "text", "fontSize": 20.7, "fontWeight": "bold", "lineHeight": 24.5, "align": "center", "baseline": "middle", "dy": -23.8, "color": "black"}, "encoding": {"text": {"value": ["Enrichment plot:", "REACTOME_HOMOLOGOUS_DNA_PAIRING_AND_S", "TRAND_EXCHANGE"]}}},
        {"spacing": 0, "resolve": {"scale": {"color": "independent", "strokeWidth": "independent"}}, "hconcat": [
          {"width": 14, "height": 1, "data": {"values": []}, "mark": "point"},
          {"bounds": "flush", "spacing": 0, "resolve": {"scale": {"color": "independent", "strokeWidth": "independent"}}, "vconcat": [
            {"width": 504, "height": 205, "view": {"fill": "white", "stroke": "#b5b5b5"}, "layer": [
              {"data": {"values": [{}]}, "mark": {"type": "rule", "color": "#8a8a8a", "strokeWidth": 1.5}, "encoding": {"y": {"datum": 0, "scale": {"domain": [-0.037, 0.665], "nice": false, "zero": false}, "axis": {"values": [0, 0.1, 0.2, 0.3, 0.4, 0.5, 0.6], "format": ".1f", "title": "Enrichment score (ES)", "titleY": 113, "titlePadding": 5}}}},
              {"data": {"name": "es"}, "transform": [{"filter": "datum.p === 'C'"}], "mark": {"type": "line", "color": "#6cbb3c", "strokeWidth": 3.5}, "encoding": {
                "x": {"field": "r", "type": "quantitative", "scale": {"domain": [0, 18975], "nice": false, "zero": false}, "axis": {"values": [0, 2500, 5000, 7500, 10000, 12500, 15000, 17500], "labels": false, "ticks": false, "title": null}},
                "y": {"field": "es", "type": "quantitative", "scale": {"domain": [-0.037, 0.665], "nice": false, "zero": false}, "axis": {"values": [0, 0.1, 0.2, 0.3, 0.4, 0.5, 0.6], "format": ".1f", "title": "Enrichment score (ES)", "titleY": 113, "titlePadding": 5}}}}
            ]},
            {"width": 504, "height": 70, "view": {"fill": "white", "stroke": "#b5b5b5"}, "data": {"name": "hits"}, "transform": [{"filter": "datum.p === 'C'"}], "mark": {"type": "rule", "color": "black", "strokeWidth": 1.4}, "encoding": {"x": {"field": "r", "type": "quantitative", "scale": {"domain": [0, 18975], "nice": false, "zero": false}, "axis": null}}},
            {"width": 504, "height": 16, "view": {"fill": "white", "stroke": "#b5b5b5"}, "data": {"name": "cbar"}, "mark": "rect", "encoding": {"x": {"field": "a", "type": "quantitative", "scale": {"domain": [0, 18975], "nice": false, "zero": false}, "axis": null}, "x2": {"field": "b"}, "fill": {"field": "lv", "type": "ordinal", "scale": {"domain": [1,2,3,4,5,6,7,8,9,10,11,12], "range": ["#c0151c","#dd393c","#e95454","#ea6a78","#ef8585","#f0b8d6","#d3d0ea","#bdb6da","#7a7fbf","#514f9e","#223892","#43298b"]}, "legend": null}}},
            {"width": 504, "height": 137, "view": {"fill": "white", "stroke": "#b5b5b5"}, "layer": [
              {"data": {"name": "metric"}, "mark": {"type": "area", "color": "#bdbdbd"}, "encoding": {
                "x": {"field": "r", "type": "quantitative", "scale": {"domain": [0, 18975], "nice": false, "zero": false}, "axis": {"values": [0, 2500, 5000, 7500, 10000, 12500, 15000, 17500], "format": ",d", "title": "Rank in Ordered Dataset", "titleFontSize": 14, "titlePadding": 4, "labelPadding": 3}},
                "y": {"field": "m", "type": "quantitative", "stack": null, "scale": {"domain": [-0.408, 0.457], "nice": false, "zero": false}, "axis": {"values": [-0.25, 0, 0.25], "format": ".2f", "title": "Ranked list metric (Signal2Noise)", "titleY": 88, "titlePadding": 7.5}},
                "y2": {"datum": 0}}},
              {"data": {"values": [{}]}, "mark": {"type": "rule", "color": "#555555", "strokeWidth": 1.5, "strokeDash": [5, 3]}, "encoding": {"x": {"datum": 8918}}},
              {"data": {"values": [{}]}, "mark": {"type": "text", "text": "Zero cross at 8918", "font": "DejaVu Sans Mono", "fontSize": 10, "align": "center", "baseline": "bottom", "color": "#111111"}, "encoding": {"x": {"datum": 8918}, "y": {"datum": 0.005}}},
              {"data": {"values": [{}]}, "mark": {"type": "text", "text": "'high' (positively correlated)", "fontSize": 11, "align": "left", "baseline": "middle", "color": "#e8141c"}, "encoding": {"x": {"datum": 150}, "y": {"datum": 0.42}}},
              {"data": {"values": [{}]}, "mark": {"type": "text", "text": "'low' (negatively correlated)", "fontSize": 11, "align": "left", "baseline": "middle", "color": "#2337a0"}, "encoding": {"x": {"datum": 9480}, "y": {"datum": -0.35}}},
              {"data": {"name": "metric"}, "transform": [{"filter": "false"}], "mark": {"type": "line"}, "encoding": {
                "x": {"field": "r", "type": "quantitative"}, "y": {"field": "m", "type": "quantitative"},
                "color": {"field": "s", "type": "nominal", "scale": {"domain": ["Enrichment profile", "Hits", "Ranking metric scores"], "range": ["#6cbb3c", "#000000", "#cccccc"]}, "legend": {"legendY": 185}},
                "strokeWidth": {"field": "s", "type": "nominal", "scale": {"type": "ordinal", "domain": ["Enrichment profile", "Hits", "Ranking metric scores"], "range": [4, 2, 1.5]}, "legend": {"legendY": 185}}}}
            ]}
          ]}
        ]}
      ]},
      {"width": 3, "height": 586, "view": {"fill": "white"}, "data": {"values": []}, "mark": "point"}
    ]},
    {"width": 1950, "height": 23, "view": {"fill": "white"}, "data": {"values": []}, "mark": "point"},
    {"width": 1950, "height": 74, "view": {"fill": "white"}, "data": {"values": [{"k": "D"}, {"k": "E"}, {"k": "F"}]},
     "mark": {"type": "text", "font": "Liberation Sans", "fontSize": 31, "fontWeight": "bold", "align": "left", "baseline": "middle", "color": "black"},
     "encoding": {"x": {"field": "k", "type": "nominal", "scale": {"type": "point", "padding": 0.4328, "align": 0.0119}, "axis": null}, "text": {"field": "k"}}},
    {"spacing": 0, "resolve": {"scale": {"color": "independent", "strokeWidth": "independent"}}, "hconcat": [
      {"width": 3, "height": 585, "view": {"fill": "white"}, "data": {"values": []}, "mark": "point"},
      {"spacing": 0, "resolve": {"scale": {"color": "independent", "strokeWidth": "independent"}}, "vconcat": [
        {"width": 583, "height": 81, "data": {"values": [{}]}, "mark": {"type": "text", "fontSize": 20.7, "fontWeight": "bold", "lineHeight": 24.5, "align": "center", "baseline": "middle", "dy": -23.8, "color": "black"}, "encoding": {"text": {"value": ["Enrichment plot:", "REACTOME_POLO_LIKE_KINASE_MEDIATED_EVENT", "S"]}}},
        {"spacing": 0, "resolve": {"scale": {"color": "independent", "strokeWidth": "independent"}}, "hconcat": [
          {"width": 14, "height": 1, "data": {"values": []}, "mark": "point"},
          {"bounds": "flush", "spacing": 0, "resolve": {"scale": {"color": "independent", "strokeWidth": "independent"}}, "vconcat": [
            {"width": 504, "height": 205, "view": {"fill": "white", "stroke": "#b5b5b5"}, "layer": [
              {"data": {"values": [{}]}, "mark": {"type": "rule", "color": "#8a8a8a", "strokeWidth": 1.5}, "encoding": {"y": {"datum": 0, "scale": {"domain": [-0.042, 0.7226], "nice": false, "zero": false}, "axis": {"values": [0, 0.1, 0.2, 0.3, 0.4, 0.5, 0.6, 0.7], "format": ".1f", "title": "Enrichment score (ES)", "titleY": 113, "titlePadding": 5}}}},
              {"data": {"name": "es"}, "transform": [{"filter": "datum.p === 'D'"}], "mark": {"type": "line", "color": "#6cbb3c", "strokeWidth": 3.5}, "encoding": {
                "x": {"field": "r", "type": "quantitative", "scale": {"domain": [0, 18975], "nice": false, "zero": false}, "axis": {"values": [0, 2500, 5000, 7500, 10000, 12500, 15000, 17500], "labels": false, "ticks": false, "title": null}},
                "y": {"field": "es", "type": "quantitative", "scale": {"domain": [-0.042, 0.7226], "nice": false, "zero": false}, "axis": {"values": [0, 0.1, 0.2, 0.3, 0.4, 0.5, 0.6, 0.7], "format": ".1f", "title": "Enrichment score (ES)", "titleY": 113, "titlePadding": 5}}}}
            ]},
            {"width": 504, "height": 70, "view": {"fill": "white", "stroke": "#b5b5b5"}, "data": {"name": "hits"}, "transform": [{"filter": "datum.p === 'D'"}], "mark": {"type": "rule", "color": "black", "strokeWidth": 1.4}, "encoding": {"x": {"field": "r", "type": "quantitative", "scale": {"domain": [0, 18975], "nice": false, "zero": false}, "axis": null}}},
            {"width": 504, "height": 16, "view": {"fill": "white", "stroke": "#b5b5b5"}, "data": {"name": "cbar"}, "mark": "rect", "encoding": {"x": {"field": "a", "type": "quantitative", "scale": {"domain": [0, 18975], "nice": false, "zero": false}, "axis": null}, "x2": {"field": "b"}, "fill": {"field": "lv", "type": "ordinal", "scale": {"domain": [1,2,3,4,5,6,7,8,9,10,11,12], "range": ["#c0151c","#dd393c","#e95454","#ea6a78","#ef8585","#f0b8d6","#d3d0ea","#bdb6da","#7a7fbf","#514f9e","#223892","#43298b"]}, "legend": null}}},
            {"width": 504, "height": 137, "view": {"fill": "white", "stroke": "#b5b5b5"}, "layer": [
              {"data": {"name": "metric"}, "mark": {"type": "area", "color": "#bdbdbd"}, "encoding": {
                "x": {"field": "r", "type": "quantitative", "scale": {"domain": [0, 18975], "nice": false, "zero": false}, "axis": {"values": [0, 2500, 5000, 7500, 10000, 12500, 15000, 17500], "format": ",d", "title": "Rank in Ordered Dataset", "titleFontSize": 14, "titlePadding": 4, "labelPadding": 3}},
                "y": {"field": "m", "type": "quantitative", "stack": null, "scale": {"domain": [-0.408, 0.457], "nice": false, "zero": false}, "axis": {"values": [-0.25, 0, 0.25], "format": ".2f", "title": "Ranked list metric (Signal2Noise)", "titleY": 88, "titlePadding": 7.5}},
                "y2": {"datum": 0}}},
              {"data": {"values": [{}]}, "mark": {"type": "rule", "color": "#555555", "strokeWidth": 1.5, "strokeDash": [5, 3]}, "encoding": {"x": {"datum": 8918}}},
              {"data": {"values": [{}]}, "mark": {"type": "text", "text": "Zero cross at 8918", "font": "DejaVu Sans Mono", "fontSize": 10, "align": "center", "baseline": "bottom", "color": "#111111"}, "encoding": {"x": {"datum": 8918}, "y": {"datum": 0.005}}},
              {"data": {"values": [{}]}, "mark": {"type": "text", "text": "'high' (positively correlated)", "fontSize": 11, "align": "left", "baseline": "middle", "color": "#e8141c"}, "encoding": {"x": {"datum": 150}, "y": {"datum": 0.42}}},
              {"data": {"values": [{}]}, "mark": {"type": "text", "text": "'low' (negatively correlated)", "fontSize": 11, "align": "left", "baseline": "middle", "color": "#2337a0"}, "encoding": {"x": {"datum": 9480}, "y": {"datum": -0.35}}},
              {"data": {"name": "metric"}, "transform": [{"filter": "false"}], "mark": {"type": "line"}, "encoding": {
                "x": {"field": "r", "type": "quantitative"}, "y": {"field": "m", "type": "quantitative"},
                "color": {"field": "s", "type": "nominal", "scale": {"domain": ["Enrichment profile", "Hits", "Ranking metric scores"], "range": ["#6cbb3c", "#000000", "#cccccc"]}, "legend": {"legendY": 185}},
                "strokeWidth": {"field": "s", "type": "nominal", "scale": {"type": "ordinal", "domain": ["Enrichment profile", "Hits", "Ranking metric scores"], "range": [4, 2, 1.5]}, "legend": {"legendY": 185}}}}
            ]}
          ]}
        ]}
      ]},
      {"width": 97, "height": 585, "view": {"fill": "white"}, "data": {"values": []}, "mark": "point"},
      {"spacing": 0, "resolve": {"scale": {"color": "independent", "strokeWidth": "independent"}}, "vconcat": [
        {"width": 583, "height": 56, "data": {"values": [{}]}, "mark": {"type": "text", "fontSize": 20.7, "fontWeight": "bold", "lineHeight": 24.5, "align": "center", "baseline": "middle", "dy": -12.3, "color": "black"}, "encoding": {"text": {"value": ["Enrichment plot:", "REACTOME_REGULATED_NECROSIS"]}}},
        {"spacing": 0, "resolve": {"scale": {"color": "independent", "strokeWidth": "independent"}}, "hconcat": [
          {"width": 14, "height": 1, "data": {"values": []}, "mark": "point"},
          {"bounds": "flush", "spacing": 0, "resolve": {"scale": {"color": "independent", "strokeWidth": "independent"}}, "vconcat": [
            {"width": 504, "height": 217, "view": {"fill": "white", "stroke": "#b5b5b5"}, "layer": [
              {"data": {"values": [{}]}, "mark": {"type": "rule", "color": "#8a8a8a", "strokeWidth": 1.5}, "encoding": {"y": {"datum": 0, "scale": {"domain": [-0.74, 0.039], "nice": false, "zero": false}, "axis": {"values": [-0.7, -0.6, -0.5, -0.4, -0.3, -0.2, -0.1, 0], "format": ".1f", "title": "Enrichment score (ES)", "titleY": 121, "titlePadding": 5}}}},
              {"data": {"name": "es"}, "transform": [{"filter": "datum.p === 'E'"}], "mark": {"type": "line", "color": "#6cbb3c", "strokeWidth": 3.5}, "encoding": {
                "x": {"field": "r", "type": "quantitative", "scale": {"domain": [0, 18975], "nice": false, "zero": false}, "axis": {"values": [0, 2500, 5000, 7500, 10000, 12500, 15000, 17500], "labels": false, "ticks": false, "title": null}},
                "y": {"field": "es", "type": "quantitative", "scale": {"domain": [-0.74, 0.039], "nice": false, "zero": false}, "axis": {"values": [-0.7, -0.6, -0.5, -0.4, -0.3, -0.2, -0.1, 0], "format": ".1f", "title": "Enrichment score (ES)", "titleY": 121, "titlePadding": 5}}}}
            ]},
            {"width": 504, "height": 74, "view": {"fill": "white", "stroke": "#b5b5b5"}, "data": {"name": "hits"}, "transform": [{"filter": "datum.p === 'E'"}], "mark": {"type": "rule", "color": "black", "strokeWidth": 1.4}, "encoding": {"x": {"field": "r", "type": "quantitative", "scale": {"domain": [0, 18975], "nice": false, "zero": false}, "axis": null}}},
            {"width": 504, "height": 17, "view": {"fill": "white", "stroke": "#b5b5b5"}, "data": {"name": "cbar"}, "mark": "rect", "encoding": {"x": {"field": "a", "type": "quantitative", "scale": {"domain": [0, 18975], "nice": false, "zero": false}, "axis": null}, "x2": {"field": "b"}, "fill": {"field": "lv", "type": "ordinal", "scale": {"domain": [1,2,3,4,5,6,7,8,9,10,11,12], "range": ["#c0151c","#dd393c","#e95454","#ea6a78","#ef8585","#f0b8d6","#d3d0ea","#bdb6da","#7a7fbf","#514f9e","#223892","#43298b"]}, "legend": null}}},
            {"width": 504, "height": 145, "view": {"fill": "white", "stroke": "#b5b5b5"}, "layer": [
              {"data": {"name": "metric"}, "mark": {"type": "area", "color": "#bdbdbd"}, "encoding": {
                "x": {"field": "r", "type": "quantitative", "scale": {"domain": [0, 18975], "nice": false, "zero": false}, "axis": {"values": [0, 2500, 5000, 7500, 10000, 12500, 15000, 17500], "format": ",d", "title": "Rank in Ordered Dataset", "titleFontSize": 14, "titlePadding": 4, "labelPadding": 3}},
                "y": {"field": "m", "type": "quantitative", "stack": null, "scale": {"domain": [-0.408, 0.457], "nice": false, "zero": false}, "axis": {"values": [-0.25, 0, 0.25], "format": ".2f", "title": "Ranked list metric (Signal2Noise)", "titleY": 93, "titlePadding": 7.5}},
                "y2": {"datum": 0}}},
              {"data": {"values": [{}]}, "mark": {"type": "rule", "color": "#555555", "strokeWidth": 1.5, "strokeDash": [5, 3]}, "encoding": {"x": {"datum": 8918}}},
              {"data": {"values": [{}]}, "mark": {"type": "text", "text": "Zero cross at 8918", "font": "DejaVu Sans Mono", "fontSize": 10, "align": "center", "baseline": "bottom", "color": "#111111"}, "encoding": {"x": {"datum": 8918}, "y": {"datum": 0.005}}},
              {"data": {"values": [{}]}, "mark": {"type": "text", "text": "'high' (positively correlated)", "fontSize": 11, "align": "left", "baseline": "middle", "color": "#e8141c"}, "encoding": {"x": {"datum": 150}, "y": {"datum": 0.42}}},
              {"data": {"values": [{}]}, "mark": {"type": "text", "text": "'low' (negatively correlated)", "fontSize": 11, "align": "left", "baseline": "middle", "color": "#2337a0"}, "encoding": {"x": {"datum": 9480}, "y": {"datum": -0.35}}},
              {"data": {"name": "metric"}, "transform": [{"filter": "false"}], "mark": {"type": "line"}, "encoding": {
                "x": {"field": "r", "type": "quantitative"}, "y": {"field": "m", "type": "quantitative"},
                "color": {"field": "s", "type": "nominal", "scale": {"domain": ["Enrichment profile", "Hits", "Ranking metric scores"], "range": ["#6cbb3c", "#000000", "#cccccc"]}, "legend": {"legendY": 193}},
                "strokeWidth": {"field": "s", "type": "nominal", "scale": {"type": "ordinal", "domain": ["Enrichment profile", "Hits", "Ranking metric scores"], "range": [4, 2, 1.5]}, "legend": {"legendY": 193}}}}
            ]}
          ]}
        ]}
      ]},
      {"width": 98, "height": 585, "view": {"fill": "white"}, "data": {"values": []}, "mark": "point"},
      {"spacing": 0, "resolve": {"scale": {"color": "independent", "strokeWidth": "independent"}}, "vconcat": [
        {"width": 583, "height": 81, "data": {"values": [{}]}, "mark": {"type": "text", "fontSize": 20.7, "fontWeight": "bold", "lineHeight": 24.5, "align": "center", "baseline": "middle", "dy": -23.8, "color": "black"}, "encoding": {"text": {"value": ["Enrichment plot:", "REACTOME_TRIF_MEDIATED_PROGRAMMED_CELL", "_DEATH"]}}},
        {"spacing": 0, "resolve": {"scale": {"color": "independent", "strokeWidth": "independent"}}, "hconcat": [
          {"width": 14, "height": 1, "data": {"values": []}, "mark": "point"},
          {"bounds": "flush", "spacing": 0, "resolve": {"scale": {"color": "independent", "strokeWidth": "independent"}}, "vconcat": [
            {"width": 504, "height": 205, "view": {"fill": "white", "stroke": "#b5b5b5"}, "layer": [
              {"data": {"values": [{}]}, "mark": {"type": "rule", "color": "#8a8a8a", "strokeWidth": 1.5}, "encoding": {"y": {"datum": 0, "scale": {"domain": [-0.829, 0.062], "nice": false, "zero": false}, "axis": {"values": [-0.8, -0.7, -0.6, -0.5, -0.4, -0.3, -0.2, -0.1, 0], "format": ".1f", "title": "Enrichment score (ES)", "titleY": 113, "titlePadding": 5}}}},
              {"data": {"name": "es"}, "transform": [{"filter": "datum.p === 'F'"}], "mark": {"type": "line", "color": "#6cbb3c", "strokeWidth": 3.5}, "encoding": {
                "x": {"field": "r", "type": "quantitative", "scale": {"domain": [0, 18975], "nice": false, "zero": false}, "axis": {"values": [0, 2500, 5000, 7500, 10000, 12500, 15000, 17500], "labels": false, "ticks": false, "title": null}},
                "y": {"field": "es", "type": "quantitative", "scale": {"domain": [-0.829, 0.062], "nice": false, "zero": false}, "axis": {"values": [-0.8, -0.7, -0.6, -0.5, -0.4, -0.3, -0.2, -0.1, 0], "format": ".1f", "title": "Enrichment score (ES)", "titleY": 113, "titlePadding": 5}}}}
            ]},
            {"width": 504, "height": 70, "view": {"fill": "white", "stroke": "#b5b5b5"}, "data": {"name": "hits"}, "transform": [{"filter": "datum.p === 'F'"}], "mark": {"type": "rule", "color": "black", "strokeWidth": 1.4}, "encoding": {"x": {"field": "r", "type": "quantitative", "scale": {"domain": [0, 18975], "nice": false, "zero": false}, "axis": null}}},
            {"width": 504, "height": 16, "view": {"fill": "white", "stroke": "#b5b5b5"}, "data": {"name": "cbar"}, "mark": "rect", "encoding": {"x": {"field": "a", "type": "quantitative", "scale": {"domain": [0, 18975], "nice": false, "zero": false}, "axis": null}, "x2": {"field": "b"}, "fill": {"field": "lv", "type": "ordinal", "scale": {"domain": [1,2,3,4,5,6,7,8,9,10,11,12], "range": ["#c0151c","#dd393c","#e95454","#ea6a78","#ef8585","#f0b8d6","#d3d0ea","#bdb6da","#7a7fbf","#514f9e","#223892","#43298b"]}, "legend": null}}},
            {"width": 504, "height": 137, "view": {"fill": "white", "stroke": "#b5b5b5"}, "layer": [
              {"data": {"name": "metric"}, "mark": {"type": "area", "color": "#bdbdbd"}, "encoding": {
                "x": {"field": "r", "type": "quantitative", "scale": {"domain": [0, 18975], "nice": false, "zero": false}, "axis": {"values": [0, 2500, 5000, 7500, 10000, 12500, 15000, 17500], "format": ",d", "title": "Rank in Ordered Dataset", "titleFontSize": 14, "titlePadding": 4, "labelPadding": 3}},
                "y": {"field": "m", "type": "quantitative", "stack": null, "scale": {"domain": [-0.408, 0.457], "nice": false, "zero": false}, "axis": {"values": [-0.25, 0, 0.25], "format": ".2f", "title": "Ranked list metric (Signal2Noise)", "titleY": 88, "titlePadding": 7.5}},
                "y2": {"datum": 0}}},
              {"data": {"values": [{}]}, "mark": {"type": "rule", "color": "#555555", "strokeWidth": 1.5, "strokeDash": [5, 3]}, "encoding": {"x": {"datum": 8918}}},
              {"data": {"values": [{}]}, "mark": {"type": "text", "text": "Zero cross at 8918", "font": "DejaVu Sans Mono", "fontSize": 10, "align": "center", "baseline": "bottom", "color": "#111111"}, "encoding": {"x": {"datum": 8918}, "y": {"datum": 0.005}}},
              {"data": {"values": [{}]}, "mark": {"type": "text", "text": "'high' (positively correlated)", "fontSize": 11, "align": "left", "baseline": "middle", "color": "#e8141c"}, "encoding": {"x": {"datum": 150}, "y": {"datum": 0.42}}},
              {"data": {"values": [{}]}, "mark": {"type": "text", "text": "'low' (negatively correlated)", "fontSize": 11, "align": "left", "baseline": "middle", "color": "#2337a0"}, "encoding": {"x": {"datum": 9480}, "y": {"datum": -0.35}}},
              {"data": {"name": "metric"}, "transform": [{"filter": "false"}], "mark": {"type": "line"}, "encoding": {
                "x": {"field": "r", "type": "quantitative"}, "y": {"field": "m", "type": "quantitative"},
                "color": {"field": "s", "type": "nominal", "scale": {"domain": ["Enrichment profile", "Hits", "Ranking metric scores"], "range": ["#6cbb3c", "#000000", "#cccccc"]}, "legend": {"legendY": 185}},
                "strokeWidth": {"field": "s", "type": "nominal", "scale": {"type": "ordinal", "domain": ["Enrichment profile", "Hits", "Ranking metric scores"], "range": [4, 2, 1.5]}, "legend": {"legendY": 185}}}}
            ]}
          ]}
        ]}
      ]},
      {"width": 3, "height": 585, "view": {"fill": "white"}, "data": {"values": []}, "mark": "point"}
    ]},
    {"width": 1950, "height": 96, "view": {"fill": "white"}, "data": {"values": [{"k": "G"}, {"k": "H"}, {"k": "I"}]},
     "mark": {"type": "text", "font": "Liberation Sans", "fontSize": 31, "fontWeight": "bold", "align": "left", "baseline": "middle", "color": "black"},
     "encoding": {"x": {"field": "k", "type": "nominal", "scale": {"type": "point", "padding": 0.4328, "align": 0.0119}, "axis": null}, "text": {"field": "k"}}},
    {"width": 1950, "height": 1, "view": {"fill": "white"}, "data": {"values": []}, "mark": "point"},
    {"spacing": 0, "resolve": {"scale": {"color": "independent", "strokeWidth": "independent"}}, "hconcat": [
      {"width": 3, "height": 585, "view": {"fill": "white"}, "data": {"values": []}, "mark": "point"},
      {"spacing": 0, "resolve": {"scale": {"color": "independent", "strokeWidth": "independent"}}, "vconcat": [
        {"width": 583, "height": 81, "data": {"values": [{}]}, "mark": {"type": "text", "fontSize": 20.7, "fontWeight": "bold", "lineHeight": 24.5, "align": "center", "baseline": "middle", "dy": -23.8, "color": "black"}, "encoding": {"text": {"value": ["Enrichment plot:", "KEGG_AMINO_SUGAR_AND_NUCLEOTIDE_SUGAR_", "METABOLISM"]}}},
        {"spacing": 0, "resolve": {"scale": {"color": "independent", "strokeWidth": "independent"}}, "hconcat": [
          {"width": 14, "height": 1, "data": {"values": []}, "mark": "point"},
          {"bounds": "flush", "spacing": 0, "resolve": {"scale": {"color": "independent", "strokeWidth": "independent"}}, "vconcat": [
            {"width": 504, "height": 205, "view": {"fill": "white", "stroke": "#b5b5b5"}, "layer": [
              {"data": {"values": [{}]}, "mark": {"type": "rule", "color": "#8a8a8a", "strokeWidth": 1.5}, "encoding": {"y": {"datum": 0, "scale": {"domain": [-0.527, 0.0287], "nice": false, "zero": false}, "axis": {"values": [-0.5, -0.45, -0.4, -0.35, -0.3, -0.25, -0.2, -0.15, -0.1, -0.05, 0], "format": ".2f", "title": "Enrichment score (ES)", "titleY": 113, "titlePadding": 5}}}},
              {"data": {"name": "es"}, "transform": [{"filter": "datum.p === 'G'"}], "mark": {"type": "line", "color": "#6cbb3c", "strokeWidth": 3.5}, "encoding": {
                "x": {"field": "r", "type": "quantitative", "scale": {"domain": [0, 18975], "nice": false, "zero": false}, "axis": {"values": [0, 2500, 5000, 7500, 10000, 12500, 15000, 17500], "labels": false, "ticks": false, "title": null}},
                "y": {"field": "es", "type": "quantitative", "scale": {"domain": [-0.527, 0.0287], "nice": false, "zero": false}, "axis": {"values": [-0.5, -0.45, -0.4, -0.35, -0.3, -0.25, -0.2, -0.15, -0.1, -0.05, 0], "format": ".2f", "title": "Enrichment score (ES)", "titleY": 113, "titlePadding": 5}}}}
            ]},
            {"width": 504, "height": 70, "view": {"fill": "white", "stroke": "#b5b5b5"}, "data": {"name": "hits"}, "transform": [{"filter": "datum.p === 'G'"}], "mark": {"type": "rule", "color": "black", "strokeWidth": 1.4}, "encoding": {"x": {"field": "r", "type": "quantitative", "scale": {"domain": [0, 18975], "nice": false, "zero": false}, "axis": null}}},
            {"width": 504, "height": 16, "view": {"fill": "white", "stroke": "#b5b5b5"}, "data": {"name": "cbar"}, "mark": "rect", "encoding": {"x": {"field": "a", "type": "quantitative", "scale": {"domain": [0, 18975], "nice": false, "zero": false}, "axis": null}, "x2": {"field": "b"}, "fill": {"field": "lv", "type": "ordinal", "scale": {"domain": [1,2,3,4,5,6,7,8,9,10,11,12], "range": ["#c0151c","#dd393c","#e95454","#ea6a78","#ef8585","#f0b8d6","#d3d0ea","#bdb6da","#7a7fbf","#514f9e","#223892","#43298b"]}, "legend": null}}},
            {"width": 504, "height": 137, "view": {"fill": "white", "stroke": "#b5b5b5"}, "layer": [
              {"data": {"name": "metric"}, "mark": {"type": "area", "color": "#bdbdbd"}, "encoding": {
                "x": {"field": "r", "type": "quantitative", "scale": {"domain": [0, 18975], "nice": false, "zero": false}, "axis": {"values": [0, 2500, 5000, 7500, 10000, 12500, 15000, 17500], "format": ",d", "title": "Rank in Ordered Dataset", "titleFontSize": 14, "titlePadding": 4, "labelPadding": 3}},
                "y": {"field": "m", "type": "quantitative", "stack": null, "scale": {"domain": [-0.408, 0.457], "nice": false, "zero": false}, "axis": {"values": [-0.25, 0, 0.25], "format": ".2f", "title": "Ranked list metric (Signal2Noise)", "titleY": 88, "titlePadding": 7.5}},
                "y2": {"datum": 0}}},
              {"data": {"values": [{}]}, "mark": {"type": "rule", "color": "#555555", "strokeWidth": 1.5, "strokeDash": [5, 3]}, "encoding": {"x": {"datum": 8918}}},
              {"data": {"values": [{}]}, "mark": {"type": "text", "text": "Zero cross at 8918", "font": "DejaVu Sans Mono", "fontSize": 10, "align": "center", "baseline": "bottom", "color": "#111111"}, "encoding": {"x": {"datum": 8918}, "y": {"datum": 0.005}}},
              {"data": {"values": [{}]}, "mark": {"type": "text", "text": "'high' (positively correlated)", "fontSize": 11, "align": "left", "baseline": "middle", "color": "#e8141c"}, "encoding": {"x": {"datum": 150}, "y": {"datum": 0.42}}},
              {"data": {"values": [{}]}, "mark": {"type": "text", "text": "'low' (negatively correlated)", "fontSize": 11, "align": "left", "baseline": "middle", "color": "#2337a0"}, "encoding": {"x": {"datum": 9480}, "y": {"datum": -0.35}}},
              {"data": {"name": "metric"}, "transform": [{"filter": "false"}], "mark": {"type": "line"}, "encoding": {
                "x": {"field": "r", "type": "quantitative"}, "y": {"field": "m", "type": "quantitative"},
                "color": {"field": "s", "type": "nominal", "scale": {"domain": ["Enrichment profile", "Hits", "Ranking metric scores"], "range": ["#6cbb3c", "#000000", "#cccccc"]}, "legend": {"legendY": 185}},
                "strokeWidth": {"field": "s", "type": "nominal", "scale": {"type": "ordinal", "domain": ["Enrichment profile", "Hits", "Ranking metric scores"], "range": [4, 2, 1.5]}, "legend": {"legendY": 185}}}}
            ]}
          ]}
        ]}
      ]},
      {"width": 97, "height": 585, "view": {"fill": "white"}, "data": {"values": []}, "mark": "point"},
      {"spacing": 0, "resolve": {"scale": {"color": "independent", "strokeWidth": "independent"}}, "vconcat": [
        {"width": 583, "height": 56, "data": {"values": [{}]}, "mark": {"type": "text", "fontSize": 20.7, "fontWeight": "bold", "lineHeight": 24.5, "align": "center", "baseline": "middle", "dy": -12.3, "color": "black"}, "encoding": {"text": {"value": ["Enrichment plot:", "REACTOME_COENZYME_A_BIOSYNTHESIS"]}}},
        {"spacing": 0, "resolve": {"scale": {"color": "independent", "strokeWidth": "independent"}}, "hconcat": [
          {"width": 14, "height": 1, "data": {"values": []}, "mark": "point"},
          {"bounds": "flush", "spacing": 0, "resolve": {"scale": {"color": "independent", "strokeWidth": "independent"}}, "vconcat": [
            {"width": 504, "height": 217, "view": {"fill": "white", "stroke": "#b5b5b5"}, "layer": [
              {"data": {"values": [{}]}, "mark": {"type": "rule", "color": "#8a8a8a", "strokeWidth": 1.5}, "encoding": {"y": {"datum": 0, "scale": {"domain": [-0.72, 0.048], "nice": false, "zero": false}, "axis": {"values": [-0.7, -0.6, -0.5, -0.4, -0.3, -0.2, -0.1, 0], "format": ".1f", "title": "Enrichment score (ES)", "titleY": 121, "titlePadding": 5}}}},
              {"data": {"name": "es"}, "transform": [{"filter": "datum.p === 'H'"}], "mark": {"type": "line", "color": "#6cbb3c", "strokeWidth": 3.5}, "encoding": {
                "x": {"field": "r", "type": "quantitative", "scale": {"domain": [0, 18975], "nice": false, "zero": false}, "axis": {"values": [0, 2500, 5000, 7500, 10000, 12500, 15000, 17500], "labels": false, "ticks": false, "title": null}},
                "y": {"field": "es", "type": "quantitative", "scale": {"domain": [-0.72, 0.048], "nice": false, "zero": false}, "axis": {"values": [-0.7, -0.6, -0.5, -0.4, -0.3, -0.2, -0.1, 0], "format": ".1f", "title": "Enrichment score (ES)", "titleY": 121, "titlePadding": 5}}}}
            ]},
            {"width": 504, "height": 74, "view": {"fill": "white", "stroke": "#b5b5b5"}, "data": {"name": "hits"}, "transform": [{"filter": "datum.p === 'H'"}], "mark": {"type": "rule", "color": "black", "strokeWidth": 1.4}, "encoding": {"x": {"field": "r", "type": "quantitative", "scale": {"domain": [0, 18975], "nice": false, "zero": false}, "axis": null}}},
            {"width": 504, "height": 17, "view": {"fill": "white", "stroke": "#b5b5b5"}, "data": {"name": "cbar"}, "mark": "rect", "encoding": {"x": {"field": "a", "type": "quantitative", "scale": {"domain": [0, 18975], "nice": false, "zero": false}, "axis": null}, "x2": {"field": "b"}, "fill": {"field": "lv", "type": "ordinal", "scale": {"domain": [1,2,3,4,5,6,7,8,9,10,11,12], "range": ["#c0151c","#dd393c","#e95454","#ea6a78","#ef8585","#f0b8d6","#d3d0ea","#bdb6da","#7a7fbf","#514f9e","#223892","#43298b"]}, "legend": null}}},
            {"width": 504, "height": 145, "view": {"fill": "white", "stroke": "#b5b5b5"}, "layer": [
              {"data": {"name": "metric"}, "mark": {"type": "area", "color": "#bdbdbd"}, "encoding": {
                "x": {"field": "r", "type": "quantitative", "scale": {"domain": [0, 18975], "nice": false, "zero": false}, "axis": {"values": [0, 2500, 5000, 7500, 10000, 12500, 15000, 17500], "format": ",d", "title": "Rank in Ordered Dataset", "titleFontSize": 14, "titlePadding": 4, "labelPadding": 3}},
                "y": {"field": "m", "type": "quantitative", "stack": null, "scale": {"domain": [-0.408, 0.457], "nice": false, "zero": false}, "axis": {"values": [-0.25, 0, 0.25], "format": ".2f", "title": "Ranked list metric (Signal2Noise)", "titleY": 93, "titlePadding": 7.5}},
                "y2": {"datum": 0}}},
              {"data": {"values": [{}]}, "mark": {"type": "rule", "color": "#555555", "strokeWidth": 1.5, "strokeDash": [5, 3]}, "encoding": {"x": {"datum": 8918}}},
              {"data": {"values": [{}]}, "mark": {"type": "text", "text": "Zero cross at 8918", "font": "DejaVu Sans Mono", "fontSize": 10, "align": "center", "baseline": "bottom", "color": "#111111"}, "encoding": {"x": {"datum": 8918}, "y": {"datum": 0.005}}},
              {"data": {"values": [{}]}, "mark": {"type": "text", "text": "'high' (positively correlated)", "fontSize": 11, "align": "left", "baseline": "middle", "color": "#e8141c"}, "encoding": {"x": {"datum": 150}, "y": {"datum": 0.42}}},
              {"data": {"values": [{}]}, "mark": {"type": "text", "text": "'low' (negatively correlated)", "fontSize": 11, "align": "left", "baseline": "middle", "color": "#2337a0"}, "encoding": {"x": {"datum": 9480}, "y": {"datum": -0.35}}},
              {"data": {"name": "metric"}, "transform": [{"filter": "false"}], "mark": {"type": "line"}, "encoding": {
                "x": {"field": "r", "type": "quantitative"}, "y": {"field": "m", "type": "quantitative"},
                "color": {"field": "s", "type": "nominal", "scale": {"domain": ["Enrichment profile", "Hits", "Ranking metric scores"], "range": ["#6cbb3c", "#000000", "#cccccc"]}, "legend": {"legendY": 193}},
                "strokeWidth": {"field": "s", "type": "nominal", "scale": {"type": "ordinal", "domain": ["Enrichment profile", "Hits", "Ranking metric scores"], "range": [4, 2, 1.5]}, "legend": {"legendY": 193}}}}
            ]}
          ]}
        ]}
      ]},
      {"width": 98, "height": 585, "view": {"fill": "white"}, "data": {"values": []}, "mark": "point"},
      {"spacing": 0, "resolve": {"scale": {"color": "independent", "strokeWidth": "independent"}}, "vconcat": [
        {"width": 583, "height": 81, "data": {"values": [{}]}, "mark": {"type": "text", "fontSize": 20.7, "fontWeight": "bold", "lineHeight": 24.5, "align": "center", "baseline": "middle", "dy": -23.8, "color": "black"}, "encoding": {"text": {"value": ["Enrichment plot:", "REACTOME_VITAMIN_B2_RIBOFLAVIN_METABOLI", "SM"]}}},
        {"spacing": 0, "resolve": {"scale": {"color": "independent", "strokeWidth": "independent"}}, "hconcat": [
          {"width": 14, "height": 1, "data": {"values": []}, "mark": "point"},
          {"bounds": "flush", "spacing": 0, "resolve": {"scale": {"color": "independent", "strokeWidth": "independent"}}, "vconcat": [
            {"width": 504, "height": 205, "view": {"fill": "white", "stroke": "#b5b5b5"}, "layer": [
              {"data": {"values": [{}]}, "mark": {"type": "rule", "color": "#8a8a8a", "strokeWidth": 1.5}, "encoding": {"y": {"datum": 0, "scale": {"domain": [-0.734, 0.041], "nice": false, "zero": false}, "axis": {"values": [-0.7, -0.6, -0.5, -0.4, -0.3, -0.2, -0.1, 0], "format": ".1f", "title": "Enrichment score (ES)", "titleY": 113, "titlePadding": 5}}}},
              {"data": {"name": "es"}, "transform": [{"filter": "datum.p === 'I'"}], "mark": {"type": "line", "color": "#6cbb3c", "strokeWidth": 3.5}, "encoding": {
                "x": {"field": "r", "type": "quantitative", "scale": {"domain": [0, 18975], "nice": false, "zero": false}, "axis": {"values": [0, 2500, 5000, 7500, 10000, 12500, 15000, 17500], "labels": false, "ticks": false, "title": null}},
                "y": {"field": "es", "type": "quantitative", "scale": {"domain": [-0.734, 0.041], "nice": false, "zero": false}, "axis": {"values": [-0.7, -0.6, -0.5, -0.4, -0.3, -0.2, -0.1, 0], "format": ".1f", "title": "Enrichment score (ES)", "titleY": 113, "titlePadding": 5}}}}
            ]},
            {"width": 504, "height": 70, "view": {"fill": "white", "stroke": "#b5b5b5"}, "data": {"name": "hits"}, "transform": [{"filter": "datum.p === 'I'"}], "mark": {"type": "rule", "color": "black", "strokeWidth": 1.4}, "encoding": {"x": {"field": "r", "type": "quantitative", "scale": {"domain": [0, 18975], "nice": false, "zero": false}, "axis": null}}},
            {"width": 504, "height": 16, "view": {"fill": "white", "stroke": "#b5b5b5"}, "data": {"name": "cbar"}, "mark": "rect", "encoding": {"x": {"field": "a", "type": "quantitative", "scale": {"domain": [0, 18975], "nice": false, "zero": false}, "axis": null}, "x2": {"field": "b"}, "fill": {"field": "lv", "type": "ordinal", "scale": {"domain": [1,2,3,4,5,6,7,8,9,10,11,12], "range": ["#c0151c","#dd393c","#e95454","#ea6a78","#ef8585","#f0b8d6","#d3d0ea","#bdb6da","#7a7fbf","#514f9e","#223892","#43298b"]}, "legend": null}}},
            {"width": 504, "height": 137, "view": {"fill": "white", "stroke": "#b5b5b5"}, "layer": [
              {"data": {"name": "metric"}, "mark": {"type": "area", "color": "#bdbdbd"}, "encoding": {
                "x": {"field": "r", "type": "quantitative", "scale": {"domain": [0, 18975], "nice": false, "zero": false}, "axis": {"values": [0, 2500, 5000, 7500, 10000, 12500, 15000, 17500], "format": ",d", "title": "Rank in Ordered Dataset", "titleFontSize": 14, "titlePadding": 4, "labelPadding": 3}},
                "y": {"field": "m", "type": "quantitative", "stack": null, "scale": {"domain": [-0.408, 0.457], "nice": false, "zero": false}, "axis": {"values": [-0.25, 0, 0.25], "format": ".2f", "title": "Ranked list metric (Signal2Noise)", "titleY": 88, "titlePadding": 7.5}},
                "y2": {"datum": 0}}},
              {"data": {"values": [{}]}, "mark": {"type": "rule", "color": "#555555", "strokeWidth": 1.5, "strokeDash": [5, 3]}, "encoding": {"x": {"datum": 8918}}},
              {"data": {"values": [{}]}, "mark": {"type": "text", "text": "Zero cross at 8918", "font": "DejaVu Sans Mono", "fontSize": 10, "align": "center", "baseline": "bottom", "color": "#111111"}, "encoding": {"x": {"datum": 8918}, "y": {"datum": 0.005}}},
              {"data": {"values": [{}]}, "mark": {"type": "text", "text": "'high' (positively correlated)", "fontSize": 11, "align": "left", "baseline": "middle", "color": "#e8141c"}, "encoding": {"x": {"datum": 150}, "y": {"datum": 0.42}}},
              {"data": {"values": [{}]}, "mark": {"type": "text", "text": "'low' (negatively correlated)", "fontSize": 11, "align": "left", "baseline": "middle", "color": "#2337a0"}, "encoding": {"x": {"datum": 9480}, "y": {"datum": -0.35}}},
              {"data": {"name": "metric"}, "transform": [{"filter": "false"}], "mark": {"type": "line"}, "encoding": {
                "x": {"field": "r", "type": "quantitative"}, "y": {"field": "m", "type": "quantitative"},
                "color": {"field": "s", "type": "nominal", "scale": {"domain": ["Enrichment profile", "Hits", "Ranking metric scores"], "range": ["#6cbb3c", "#000000", "#cccccc"]}, "legend": {"legendY": 185}},
                "strokeWidth": {"field": "s", "type": "nominal", "scale": {"type": "ordinal", "domain": ["Enrichment profile", "Hits", "Ranking metric scores"], "range": [4, 2, 1.5]}, "legend": {"legendY": 185}}}}
            ]}
          ]}
        ]}
      ]},
      {"width": 3, "height": 585, "view": {"fill": "white"}, "data": {"values": []}, "mark": "point"}
    ]},
    {"width": 1950, "height": 2, "view": {"fill": "white"}, "data": {"values": []}, "mark": "point"}
  ]
}
